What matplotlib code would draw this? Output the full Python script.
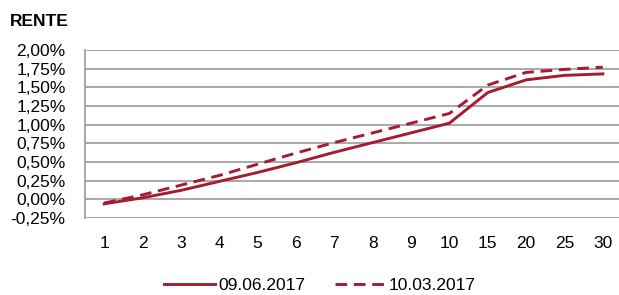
import matplotlib
matplotlib.use('Agg')
import matplotlib.pyplot as plt
from matplotlib import font_manager
from matplotlib.ticker import FuncFormatter

# maturities (years) and yields in percent
maturities = ['1', '2', '3', '4', '5', '6', '7', '8', '9', '10', '15', '20', '25', '30']
rente_0906 = [-0.06, 0.02, 0.12, 0.24, 0.36, 0.49, 0.63, 0.76, 0.89, 1.02, 1.43, 1.60, 1.66, 1.68]
rente_1003 = [-0.05, 0.06, 0.19, 0.32, 0.47, 0.62, 0.76, 0.89, 1.02, 1.15, 1.53, 1.70, 1.74, 1.77]
y_ticks = [-0.25, 0.0, 0.25, 0.5, 0.75, 1.0, 1.25, 1.5, 1.75, 2.0]

red = '#a51c30'
names = {f.name for f in font_manager.fontManager.ttflist}
print(sorted(n for n in names if 'Liberation' in n))
narrow = 'Liberation Sans Narrow' in names
fs = 13.5 if narrow else 12.5
plt.rcParams['font.family'] = (['Liberation Sans Narrow'] if narrow else []) + ['Liberation Sans', 'DejaVu Sans']

fig = plt.figure(figsize=(6.19, 2.95), dpi=100)
ax = fig.add_axes([85 / 619, 77 / 295, 537 / 619, 168 / 295])

x = list(range(len(maturities)))
ax.plot(x, rente_0906, color=red, lw=2.1, label='09.06.2017')
ax.plot(x, rente_1003, color=red, lw=2.1, linestyle=(0, (4.0, 2.3)), label='10.03.2017')

ax.set_xlim(-0.5, len(maturities) - 0.5)
ax.set_ylim(-0.25, 2.0)
ax.set_xticks(x)
ax.set_xticklabels(maturities)
ax.set_yticks(y_ticks)
ax.yaxis.set_major_formatter(FuncFormatter(lambda v, p: ('%.2f%%' % v).replace('.', ',')))
ax.tick_params(axis='both', length=0, labelsize=fs, colors='black')
ax.tick_params(axis='y', pad=14)
ax.tick_params(axis='x', pad=13)

# grey horizontal gridlines, no frame except the left edge
ax.grid(axis='y', color='#9a9a9a', lw=1.2)
ax.set_axisbelow(True)
for s in ['top', 'right', 'bottom']:
    ax.spines[s].set_visible(False)
ax.spines['left'].set_color('#9a9a9a')
ax.spines['left'].set_linewidth(1.2)

fig.text(10 / 619, 1 - 22 / 295, 'RENTE', fontsize=fs, fontweight='bold', va='center', ha='left')

fig.legend(loc='center', bbox_to_anchor=(320 / 619, 10 / 295), ncol=2, frameon=False,
           fontsize=fs, handlelength=2.9, handletextpad=0.2, columnspacing=1.7)

fig.savefig('out.png', dpi=100)
